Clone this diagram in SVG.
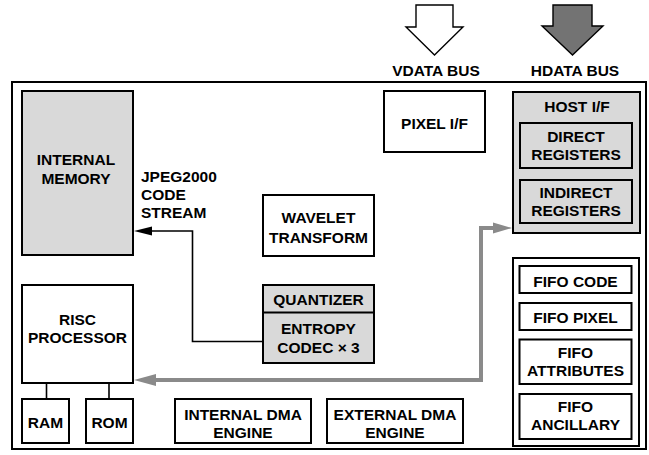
<svg xmlns="http://www.w3.org/2000/svg" width="649" height="455" viewBox="0 0 649 455">
  <style>
    .box { fill: #ffffff; stroke: #000000; stroke-width: 2; }
    .shade { fill: #d9d9d9; stroke: #000000; stroke-width: 2; }
    .frame { fill: none; stroke: #000000; stroke-width: 2; }
    text { font-family: "Liberation Sans", Arial, Helvetica, sans-serif; font-weight: bold; font-size: 15.5px; fill: #000000; }
    .c { text-anchor: middle; }
    .wire { fill: none; stroke: #000000; stroke-width: 1.6; }
    .bus { fill: none; stroke: #8a8a8a; stroke-width: 4; }
    .bushead { fill: #8a8a8a; stroke: none; }
  </style>

  <!-- chip boundary -->
  <rect class="frame" x="12" y="82" width="634" height="367"/>

  <!-- external bus arrows -->
  <g id="vdata-bus">
    <polygon points="416,5 453,5 453,27 463,27 434.5,55 406,27 416,27" fill="#ffffff" stroke="#000000" stroke-width="1.4"/>
    <text class="c" x="436" y="76">VDATA BUS</text>
  </g>
  <g id="hdata-bus">
    <polygon points="553,5 592,5 592,26 603,26 572.5,55 542,26 553,26" fill="#737373" stroke="#000000" stroke-width="1.4"/>
    <text class="c" x="575" y="76">HDATA BUS</text>
  </g>

  <g id="internal-memory">
    <rect class="shade" x="22" y="91" width="111" height="164"/>
    <text class="c" x="76" y="165">INTERNAL</text>
    <text class="c" x="76" y="183.5">MEMORY</text>
  </g>

  <g id="code-stream-label">
    <text x="141" y="181.5">JPEG2000</text>
    <text x="141" y="200">CODE</text>
    <text x="141" y="218">STREAM</text>
  </g>

  <g id="pixel-if">
    <rect class="box" x="384" y="91" width="101" height="61"/>
    <text class="c" x="434.5" y="128.5">PIXEL I/F</text>
  </g>

  <g id="host-if">
    <rect class="shade" x="513" y="92" width="127" height="141"/>
    <text class="c" x="577" y="111.5">HOST I/F</text>
    <g id="direct-registers">
      <rect class="shade" x="520" y="123" width="112" height="45"/>
      <text class="c" x="576" y="141.5">DIRECT</text>
      <text class="c" x="576" y="160">REGISTERS</text>
    </g>
    <g id="indirect-registers">
      <rect class="shade" x="520" y="180" width="112" height="43"/>
      <text class="c" x="576" y="197.5">INDIRECT</text>
      <text class="c" x="576" y="216">REGISTERS</text>
    </g>
  </g>

  <g id="wavelet-transform">
    <rect class="box" x="263" y="195" width="111" height="61"/>
    <text class="c" x="318.5" y="223.3">WAVELET</text>
    <text class="c" x="318.5" y="242.5">TRANSFORM</text>
  </g>

  <g id="quantizer-entropy">
    <rect class="shade" x="263" y="285" width="111" height="78"/>
    <line x1="263" y1="312.5" x2="374" y2="312.5" stroke="#000000" stroke-width="2"/>
    <text class="c" x="318.5" y="305">QUANTIZER</text>
    <text class="c" x="318.5" y="334.3">ENTROPY</text>
    <text class="c" x="318.5" y="353.3">CODEC × 3</text>
  </g>

  <g id="risc-processor">
    <rect class="box" x="22" y="285" width="111" height="98"/>
    <text class="c" x="77.5" y="325">RISC</text>
    <text class="c" x="77.5" y="342.7">PROCESSOR</text>
  </g>

  <g id="ram">
    <rect class="box" x="22" y="399" width="47" height="44"/>
    <text class="c" x="45.5" y="427.7">RAM</text>
  </g>
  <g id="rom">
    <rect class="box" x="86" y="399" width="47" height="44"/>
    <text class="c" x="109.5" y="427.7">ROM</text>
  </g>

  <g id="internal-dma">
    <rect class="box" x="175" y="399" width="136" height="44"/>
    <text class="c" x="243" y="420">INTERNAL DMA</text>
    <text class="c" x="243" y="437.7">ENGINE</text>
  </g>
  <g id="external-dma">
    <rect class="box" x="327" y="399" width="136" height="44"/>
    <text class="c" x="395" y="420">EXTERNAL DMA</text>
    <text class="c" x="395" y="438">ENGINE</text>
  </g>

  <g id="fifo-group">
    <rect class="box" x="513" y="258" width="126" height="188"/>
    <g id="fifo-code">
      <rect class="box" x="519.5" y="266" width="112" height="27"/>
      <text class="c" x="575.5" y="286.5">FIFO CODE</text>
    </g>
    <g id="fifo-pixel">
      <rect class="box" x="519.5" y="303" width="112" height="27"/>
      <text class="c" x="575.5" y="323.3">FIFO PIXEL</text>
    </g>
    <g id="fifo-attributes">
      <rect class="box" x="519.5" y="339.5" width="112" height="44.5"/>
      <text class="c" x="575.5" y="357.7">FIFO</text>
      <text class="c" x="575.5" y="376">ATTRIBUTES</text>
    </g>
    <g id="fifo-ancillary">
      <rect class="box" x="519.5" y="394" width="112" height="45"/>
      <text class="c" x="575.5" y="411.7">FIFO</text>
      <text class="c" x="575.5" y="430">ANCILLARY</text>
    </g>
  </g>

  <g id="connectors">
    <!-- code stream from entropy codec into internal memory -->
    <polyline class="wire" points="263,341.5 192.5,341.5 192.5,231 150,231"/>
    <polygon points="134,231 152,226.5 152,235.5" fill="#000000"/>
    <!-- RISC to RAM / ROM -->
    <line class="wire" x1="46.5" y1="383" x2="46.5" y2="399"/>
    <line class="wire" x1="109" y1="383" x2="109" y2="399"/>
    <!-- internal bus between host interface and RISC processor -->
    <polyline class="bus" points="495,228 481,228 481,380 152,380"/>
    <polygon class="bushead" points="512,228 493,222.5 493,233.5"/>
    <polygon class="bushead" points="134,380 156,374 156,386"/>
  </g>
</svg>
